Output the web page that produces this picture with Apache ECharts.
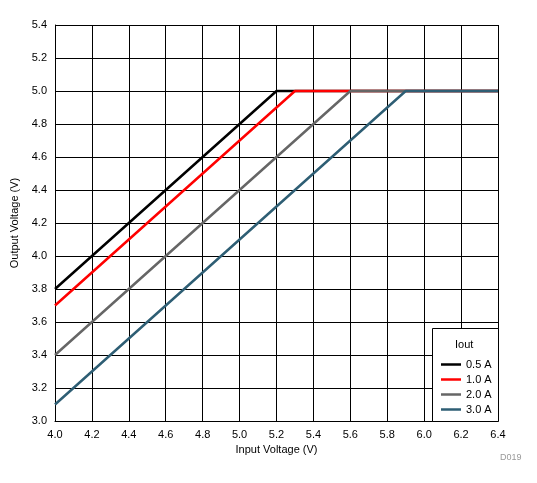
<!DOCTYPE html>
<html><head><meta charset="utf-8">
<script src="https://cdn.jsdelivr.net/npm/echarts@6/dist/echarts.min.js"></script>
<style>html,body{margin:0;padding:0;background:#fff}#c{width:537px;height:483px}</style>
</head><body><div id="c"></div>
<script>
var seriesNames = ['0.5 A', '1.0 A', '2.0 A', '3.0 A'];
var seriesColors = ['#000000', '#ff0000', '#666666', '#2e5e74'];
var inputV = [
    [4.0, 5.2, 6.4],
    [4.0, 5.3, 6.4],
    [4.0, 5.6, 6.4],
    [4.0, 5.9, 6.4]
];
var outputV = [
    [3.8, 5.0, 5.0],
    [3.7, 5.0, 5.0],
    [3.4, 5.0, 5.0],
    [3.1, 5.0, 5.0]
];

var myChart = echarts.init(document.getElementById('c'));
var font = 'Liberation Sans, Arial, sans-serif';
var series = seriesNames.map(function (name, i) {
    return {
        name: name,
        type: 'line',
        symbol: 'none',
        lineStyle: {color: seriesColors[i], width: 2.5},
        itemStyle: {color: seriesColors[i]},
        data: inputV[i].map(function (x, j) { return [x, outputV[i][j]]; })
    };
});
var option = {
    animation: false,
    grid: {left: 55, top: 25, right: 39, bottom: 62},
    xAxis: {
        type: 'value', min: 4.0, max: 6.4, interval: 0.2,
        name: 'Input Voltage (V)', nameLocation: 'middle', nameGap: 22,
        nameTextStyle: {fontFamily: font, fontSize: 11, color: '#000'},
        axisLine: {lineStyle: {color: '#000'}},
        axisTick: {show: false},
        axisLabel: {fontFamily: font, fontSize: 11, color: '#000', formatter: function (v) { return v.toFixed(1); }},
        splitLine: {lineStyle: {color: '#000', width: 1}}
    },
    yAxis: {
        type: 'value', min: 3.0, max: 5.4, interval: 0.2,
        name: 'Output Voltage (V)', nameLocation: 'middle', nameGap: 35,
        nameTextStyle: {fontFamily: font, fontSize: 11, color: '#000'},
        axisLine: {show: true, lineStyle: {color: '#000'}},
        axisTick: {show: false},
        axisLabel: {fontFamily: font, fontSize: 11, color: '#000', formatter: function (v) { return v.toFixed(1); }},
        splitLine: {lineStyle: {color: '#000', width: 1}}
    },
    graphic: [
        {type: 'rect', left: 432, top: 328, z: 50, shape: {width: 66, height: 93},
         style: {fill: '#fff', stroke: '#000', lineWidth: 1}},
        {type: 'text', left: 455, top: 339, z: 51,
         style: {text: 'Iout', font: '11px ' + font, fill: '#000'}},
        {type: 'text', left: 500, top: 453, z: 51,
         style: {text: 'D019', font: '9px ' + font, fill: '#999'}}
    ],
    legend: {
        orient: 'vertical', left: 436, top: 354, z: 60,
        itemWidth: 20, itemHeight: 10, itemGap: 4,
        icon: 'rect',
        textStyle: {fontFamily: font, fontSize: 11, color: '#000'},
        data: seriesNames.map(function (n, i) {
            return {name: n, icon: 'path://M0,4h20v2.5h-20z', itemStyle: {color: seriesColors[i]}};
        })
    },
    series: series
};
myChart.setOption(option);
</script>
</body></html>
